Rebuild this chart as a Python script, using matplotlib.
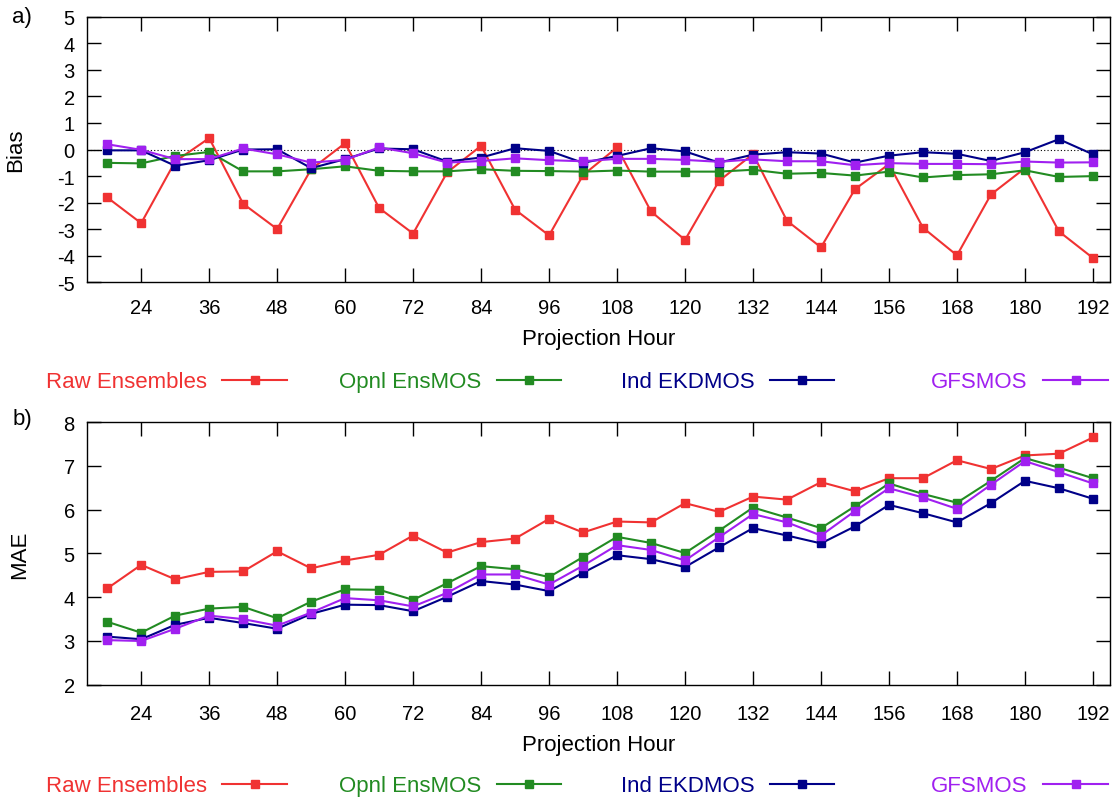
import matplotlib
matplotlib.use("Agg")
import matplotlib.pyplot as plt
import numpy as np

plt.rcParams['font.family'] = ['Liberation Sans', 'DejaVu Sans']
plt.rcParams['axes.unicode_minus'] = False

hours = list(range(18, 193, 6))
names = ['Raw Ensembles', 'Opnl EnsMOS', 'Ind EKDMOS', 'GFSMOS']
colors = ['#f03232', '#228b22', '#000088', '#a020f0']

# Bias (panel a)
bias_raw = [-1.8, -2.77, -0.45, 0.43, -2.04, -2.99, -0.74, 0.24, -2.2, -3.16,
            -0.86, 0.14, -2.26, -3.23, -0.96, 0.08, -2.33, -3.4, -1.18, -0.17,
            -2.68, -3.68, -1.49, -0.55, -2.94, -3.98, -1.69, -0.7, -3.08, -4.08]
bias_opnl = [-0.5, -0.52, -0.24, -0.09, -0.82, -0.82, -0.74, -0.63, -0.8, -0.82,
             -0.82, -0.74, -0.8, -0.81, -0.83, -0.79, -0.83, -0.83, -0.83, -0.76,
             -0.91, -0.88, -0.98, -0.83, -1.05, -0.96, -0.93, -0.78, -1.03, -1.0]
bias_ind = [-0.03, -0.03, -0.61, -0.4, 0.0, 0.01, -0.7, -0.36, 0.04, 0.01,
            -0.45, -0.3, 0.05, -0.05, -0.5, -0.24, 0.05, -0.07, -0.49, -0.19,
            -0.1, -0.15, -0.49, -0.23, -0.1, -0.16, -0.43, -0.1, 0.39, -0.18]
bias_gfs = [0.2, -0.01, -0.36, -0.36, 0.04, -0.18, -0.49, -0.39, 0.08, -0.14,
            -0.49, -0.43, -0.33, -0.4, -0.44, -0.35, -0.35, -0.39, -0.46, -0.37,
            -0.44, -0.44, -0.59, -0.51, -0.54, -0.54, -0.55, -0.45, -0.49, -0.48]

# MAE (panel b)
mae_raw = [4.2, 4.74, 4.41, 4.58, 4.59, 5.05, 4.66, 4.84, 4.97, 5.41,
           5.02, 5.26, 5.34, 5.79, 5.48, 5.73, 5.71, 6.15, 5.95, 6.3,
           6.23, 6.63, 6.42, 6.72, 6.72, 7.13, 6.93, 7.24, 7.28, 7.65]
mae_opnl = [3.44, 3.19, 3.58, 3.74, 3.78, 3.52, 3.9, 4.18, 4.17, 3.94,
            4.32, 4.71, 4.64, 4.46, 4.92, 5.38, 5.24, 5.01, 5.52, 6.05,
            5.82, 5.58, 6.08, 6.6, 6.36, 6.16, 6.66, 7.18, 6.96, 6.72]
mae_ind = [3.1, 3.04, 3.37, 3.53, 3.41, 3.28, 3.62, 3.83, 3.82, 3.68,
           4.01, 4.37, 4.29, 4.14, 4.56, 4.96, 4.87, 4.69, 5.14, 5.58,
           5.41, 5.23, 5.62, 6.11, 5.92, 5.71, 6.15, 6.66, 6.49, 6.25]
mae_gfs = [3.02, 3.0, 3.28, 3.58, 3.5, 3.35, 3.65, 3.98, 3.93, 3.79,
           4.1, 4.52, 4.52, 4.29, 4.72, 5.19, 5.08, 4.84, 5.37, 5.9,
           5.71, 5.41, 5.97, 6.49, 6.28, 6.02, 6.57, 7.11, 6.86, 6.6]

fig = plt.figure(figsize=(11.2, 8.03), dpi=100)
ax1 = fig.add_axes([0.078, 0.647, 0.913, 0.331])
ax2 = fig.add_axes([0.078, 0.146, 0.913, 0.327])

grid_kw = dict(color='black', lw=0.8, ls=(0, (3, 3)))


def style(ax, ylo, yhi, ymajor, ygrid, xpad):
    ax.set_xlim(14.5, 195)
    ax.set_ylim(ylo, yhi)
    ax.set_xticks(range(24, 193, 12))
    ax.set_xticks(range(24, 193, 24), minor=True)
    ax.set_yticks(ymajor)
    ax.set_yticks(ygrid, minor=True)
    ax.grid(which='minor', **grid_kw)
    ax.tick_params(which='major', direction='in', length=10, width=1,
                   top=True, right=True, labelsize=14.5)
    ax.tick_params(axis='x', pad=xpad)
    ax.tick_params(axis='y', pad=9)
    ax.tick_params(which='minor', length=0)
    for s in ax.spines.values():
        s.set_linewidth(1.0)
    ax.set_xlabel('Projection Hour', fontsize=16, labelpad=8)


def draw(ax, series):
    lines = []
    for vals, name, c in zip(series, names, colors):
        ln, = ax.plot(hours, vals, color=c, lw=1.5, marker='s', ms=5.5,
                      label=name, zorder=3)
        lines.append(ln)
    return lines


def legend(lines, y):
    xs = [0.264, 0.509, 0.753, 0.997]
    for ln, x in zip(lines, xs):
        fig.legend([ln], [ln.get_label()], loc='center right',
                   bbox_to_anchor=(x, y), frameon=False, fontsize=16,
                   markerfirst=False, handlelength=2.9, handletextpad=0.7,
                   borderaxespad=0, labelcolor=ln.get_color())


style(ax1, -5, 5, range(-5, 6), [-4, -2, 2, 4], 11)
ax1.axhline(0, color='black', lw=0.8, ls=(0, (1, 2)))
ax1.set_ylabel('Bias', fontsize=16, labelpad=22)
l1 = draw(ax1, [bias_raw, bias_opnl, bias_ind, bias_gfs])
legend(l1, 1 - 383 / 803)

style(ax2, 2, 8, range(2, 9), [3, 4, 5, 6, 7], 14)
ax2.set_ylabel('MAE', fontsize=16, labelpad=24)
l2 = draw(ax2, [mae_raw, mae_opnl, mae_ind, mae_gfs])
legend(l2, 1 - 787 / 803)

fig.text(0.011, 0.978, 'a)', fontsize=16, va='center')
fig.text(0.011, 0.477, 'b)', fontsize=16, va='center')

fig.savefig('out.png', dpi=100)
